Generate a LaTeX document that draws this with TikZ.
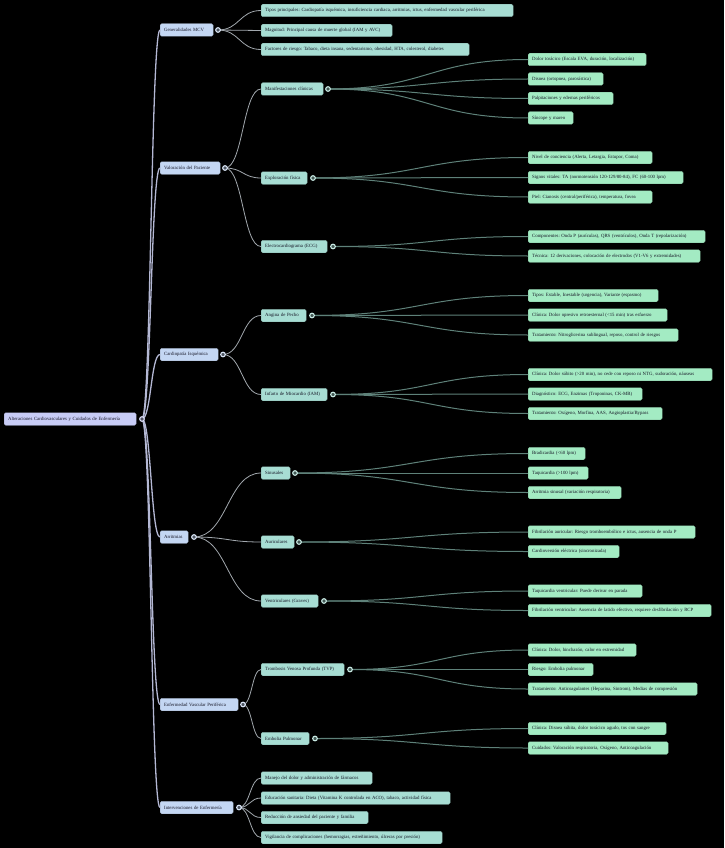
\documentclass[tikz,border=0pt]{standalone}
\usepackage{fontspec}
\setmainfont{Liberation Serif}
\usetikzlibrary{calc}
\frenchspacing
\definecolor{rootc}{HTML}{C8CCF6}
\definecolor{lonec}{HTML}{C4D7F3}
\definecolor{ltwoc}{HTML}{A7DDD3}
\definecolor{leafc}{HTML}{A3EBC3}
\definecolor{txtc}{HTML}{151525}
\definecolor{eroot}{HTML}{B4B8D4}
\definecolor{eone}{HTML}{A2A8AE}
\definecolor{etwo}{HTML}{5E8179}
\tikzset{
  box/.style={rectangle, rounded corners=1.5pt, inner xsep=4pt, inner ysep=0pt,
    minimum height=12.5pt, align=left, text=txtc, font=\fontsize{4.8}{5.2}\selectfont},
  rootbox/.style={box, fill=rootc, draw=rootc!80!black, line width=0.3pt},
  onebox/.style={box, fill=lonec, draw=lonec!80!black, line width=0.3pt},
  twobox/.style={box, fill=ltwoc, draw=ltwoc!80!black, line width=0.3pt},
  leafbox/.style={box, fill=leafc, draw=leafc!80!black, line width=0.3pt},
  dot/.style={circle, inner sep=0pt, minimum size=4.6pt, fill=#1!40!black, draw=#1!60!white, line width=1.1pt},
  curve/.style={to path={let \p1=(\tikztostart), \p2=(\tikztotarget), \n1={(\x2-\x1)/2} in
     .. controls ({\x1+\n1},\y1) and ({\x2-\n1},\y2) .. (\tikztotarget)}},
  eroot/.style={draw=eroot, line width=1.3pt},
  eone/.style={draw=eone, line width=0.8pt},
  etwo/.style={draw=etwo, line width=1pt},
}
\newcommand\bx[6]{%
  \pgfmathsetmacro\mytw{#4-#3-8}%
  \node[#2, anchor=west, text width=\mytw pt] (#1) at (#3,#5) {#6};}
\begin{document}
\begin{tikzpicture}[x=1pt,y=-1pt]
\fill[black] (0,0) rectangle (724,848);
\useasboundingbox (0,0) rectangle (724,848);

% root
\bx{root}{rootbox}{4}{136}{419}{Alteraciones Cardiovasculares y Cuidados de Enfermería}
\coordinate (croot) at (142,419);

% level 1
\bx{g}{onebox}{160}{213}{30}{Generalidades MCV}
\bx{v}{onebox}{160}{220}{168}{Valoración del Paciente}
\bx{c}{onebox}{160}{218}{354.5}{Cardiopatía Isquémica}
\bx{a}{onebox}{160}{188}{537}{Arritmias}
\bx{e}{onebox}{160}{238}{704.5}{Enfermedad Vascular Periférica}
\bx{i}{onebox}{160}{233}{807.5}{Intervenciones de Enfermería}
\coordinate (cg) at (218,30);
\coordinate (cv) at (225,168);
\coordinate (cc) at (223,354.5);
\coordinate (ca) at (194,537);
\coordinate (ce) at (243,704.5);
\coordinate (ci) at (239,807.5);

% Generalidades
\bx{g1}{twobox}{261}{513}{10.5}{Tipos principales: Cardiopatía isquémica, insuficiencia cardiaca, arritmias, ictus, enfermedad vascular periférica}
\bx{g2}{twobox}{261}{392}{30.5}{Magnitud: Principal causa de muerte global (IAM y AVC)}
\bx{g3}{twobox}{261}{469}{49.5}{Factores de riesgo: Tabaco, dieta insana, sedentarismo, obesidad, HTA, colesterol, diabetes}

% Valoracion
\bx{v1}{twobox}{261}{323}{89}{Manifestaciones clínicas}
\bx{v2}{twobox}{261}{307}{178}{Exploración física}
\bx{v3}{twobox}{261}{327}{246.5}{Electrocardiograma (ECG)}
\coordinate (cv1) at (328,89);
\coordinate (cv2) at (313,178);
\coordinate (cv3) at (333,246.5);
\bx{v1a}{leafbox}{528}{646}{59.5}{Dolor torácico (Escala EVA, duración, localización)}
\bx{v1b}{leafbox}{528}{603}{79}{Disnea (ortopnea, paroxística)}
\bx{v1c}{leafbox}{528}{613}{98.5}{Palpitaciones y edemas periféricos}
\bx{v1d}{leafbox}{528}{573}{118}{Síncope y mareo}
\bx{v2a}{leafbox}{528}{652}{157.5}{Nivel de conciencia (Alerta, Letargia, Estupor, Coma)}
\bx{v2b}{leafbox}{528}{683}{177.5}{Signos vitales: TA (normotensión 120-129/80-84), FC (60-100 lpm)}
\bx{v2c}{leafbox}{528}{652}{197}{Piel: Cianosis (central/periférica), temperatura, fovea}
\bx{v3a}{leafbox}{528}{705}{236.5}{Componentes: Onda P (aurículas), QRS (ventrículos), Onda T (repolarización)}
\bx{v3b}{leafbox}{528}{700}{256}{Técnica: 12 derivaciones, colocación de electrodos (V1-V6 y extremidades)}

% Cardiopatia
\bx{c1}{twobox}{261}{306}{315.5}{Angina de Pecho}
\bx{c2}{twobox}{261}{327}{394.5}{Infarto de Miocardio (IAM)}
\coordinate (cc1) at (312,315.5);
\coordinate (cc2) at (333,394.5);
\bx{c1a}{leafbox}{528}{658}{295.5}{Tipos: Estable, Inestable (urgencia), Variante (espasmo)}
\bx{c1b}{leafbox}{528}{667}{315}{Clínica: Dolor opresivo retroesternal (<15 min) tras esfuerzo}
\bx{c1c}{leafbox}{528}{678}{335}{Tratamiento: Nitroglicerina sublingual, reposo, control de riesgos}
\bx{c2a}{leafbox}{528}{712}{374.5}{Clínica: Dolor súbito (>20 min), no cede con reposo ni NTG, sudoración, náuseas}
\bx{c2b}{leafbox}{528}{642}{394}{Diagnóstico: ECG, Enzimas (Troponinas, CK-MB)}
\bx{c2c}{leafbox}{528}{662}{413.5}{Tratamiento: Oxígeno, Morfina, AAS, Angioplastia/Bypass}

% Arritmias
\bx{a1}{twobox}{261}{290}{473}{Sinusales}
\bx{a2}{twobox}{261}{294}{542}{Auriculares}
\bx{a3}{twobox}{261}{318}{601}{Ventriculares (Graves)}
\coordinate (ca1) at (295,473);
\coordinate (ca2) at (299,542);
\coordinate (ca3) at (324,601);
\bx{a1a}{leafbox}{528}{585}{453.5}{Bradicardia (<60 lpm)}
\bx{a1b}{leafbox}{528}{588}{473}{Taquicardia (>100 lpm)}
\bx{a1c}{leafbox}{528}{621}{492.5}{Arritmia sinusal (variación respiratoria)}
\bx{a2a}{leafbox}{528}{695}{532}{Fibrilación auricular: Riesgo tromboembólico e ictus, ausencia de onda P}
\bx{a2b}{leafbox}{528}{619}{551.5}{Cardioversión eléctrica (sincronizada)}
\bx{a3a}{leafbox}{528}{642}{591}{Taquicardia ventricular: Puede derivar en parada}
\bx{a3b}{leafbox}{528}{711}{610.5}{Fibrilación ventricular: Ausencia de latido efectivo, requiere desfibrilación y RCP}

% Enfermedad vascular
\bx{e1}{twobox}{261}{344}{669.5}{Trombosis Venosa Profunda (TVP)}
\bx{e2}{twobox}{261}{309}{738.5}{Embolia Pulmonar}
\coordinate (ce1) at (350,669.5);
\coordinate (ce2) at (315,738.5);
\bx{e1a}{leafbox}{528}{636}{650}{Clínica: Dolor, hinchazón, calor en extremidad}
\bx{e1b}{leafbox}{528}{593}{669.5}{Riesgo: Embolia pulmonar}
\bx{e1c}{leafbox}{528}{697}{689}{Tratamiento: Anticoagulantes (Heparina, Sintrom), Medias de compresión}
\bx{e2a}{leafbox}{528}{666}{728.5}{Clínica: Disnea súbita, dolor torácico agudo, tos con sangre}
\bx{e2b}{leafbox}{528}{668}{748}{Cuidados: Valoración respiratoria, Oxígeno, Anticoagulación}

% Intervenciones
\bx{i1}{twobox}{261}{372}{778}{Manejo del dolor y administración de fármacos}
\bx{i2}{twobox}{261}{450}{798}{Educación sanitaria: Dieta (Vitamina K controlada en ACO), tabaco, actividad física}
\bx{i3}{twobox}{261}{368}{817.5}{Reducción de ansiedad del paciente y familia}
\bx{i4}{twobox}{261}{442}{837.5}{Vigilancia de complicaciones (hemorragias, estreñimiento, úlceras por presión)}

% edges root
\foreach \t in {g,v,c,a,e,i} \draw[eroot] (croot) to[curve] (\t.west);
% edges level 1
\foreach \t in {g1,g2,g3} \draw[eone] (cg) to[curve] (\t.west);
\foreach \t in {v1,v2,v3} \draw[eone] (cv) to[curve] (\t.west);
\foreach \t in {c1,c2} \draw[eone] (cc) to[curve] (\t.west);
\foreach \t in {a1,a2,a3} \draw[eone] (ca) to[curve] (\t.west);
\foreach \t in {e1,e2} \draw[eone] (ce) to[curve] (\t.west);
\foreach \t in {i1,i2,i3,i4} \draw[eone] (ci) to[curve] (\t.west);
% edges level 2
\foreach \t in {v1a,v1b,v1c,v1d} \draw[etwo] (cv1) to[curve] (\t.west);
\foreach \t in {v2a,v2b,v2c} \draw[etwo] (cv2) to[curve] (\t.west);
\foreach \t in {v3a,v3b} \draw[etwo] (cv3) to[curve] (\t.west);
\foreach \t in {c1a,c1b,c1c} \draw[etwo] (cc1) to[curve] (\t.west);
\foreach \t in {c2a,c2b,c2c} \draw[etwo] (cc2) to[curve] (\t.west);
\foreach \t in {a1a,a1b,a1c} \draw[etwo] (ca1) to[curve] (\t.west);
\foreach \t in {a2a,a2b} \draw[etwo] (ca2) to[curve] (\t.west);
\foreach \t in {a3a,a3b} \draw[etwo] (ca3) to[curve] (\t.west);
\foreach \t in {e1a,e1b,e1c} \draw[etwo] (ce1) to[curve] (\t.west);
\foreach \t in {e2a,e2b} \draw[etwo] (ce2) to[curve] (\t.west);

% collapse circles
\node[dot=rootc] (droot) at (croot) {};
\foreach \t in {g,v,c,a,e,i} \node[dot=lonec] (d\t) at (c\t) {};
\foreach \t in {v1,v2,v3,c1,c2,a1,a2,a3,e1,e2} \node[dot=ltwoc] (d\t) at (c\t) {};
\end{tikzpicture}
\end{document}
